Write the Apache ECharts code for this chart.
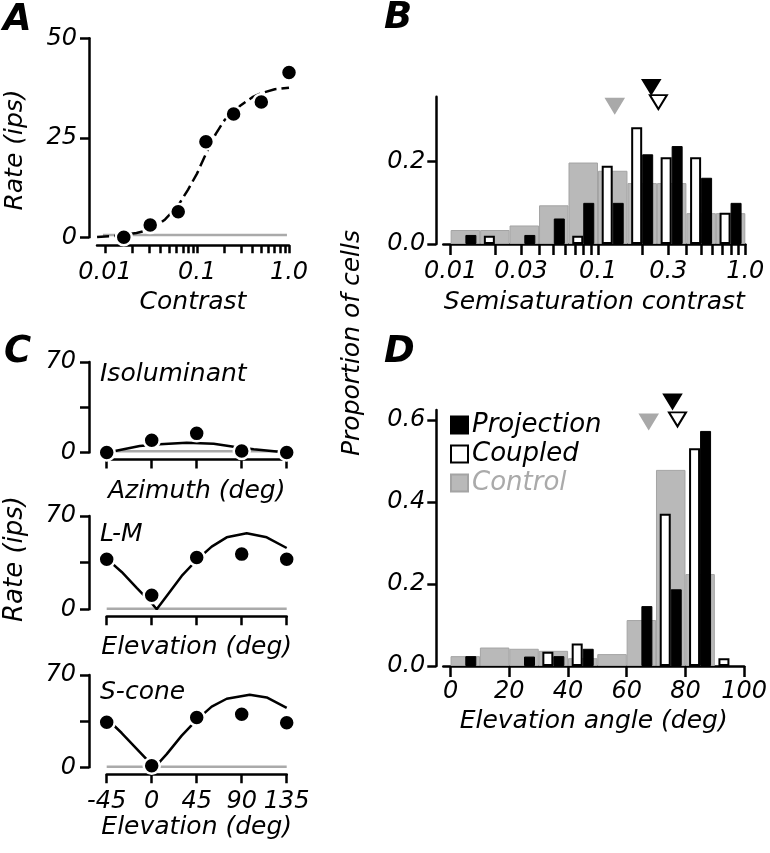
<!DOCTYPE html>
<html>
<head>
<meta charset="utf-8">
<title>Contrast and elevation tuning</title>
<script src="https://cdn.jsdelivr.net/npm/echarts@6/dist/echarts.min.js"></script>
<style>
    html, body { margin: 0; padding: 0; background: #fff; }
    #chartmain { width: 770px; height: 853px; }
</style>
</head>
<body>
<div id="chartmain"></div>
<script type="text/javascript">
    // ---- A: contrast response of one cell ----
    var contrastA = [0.016, 0.031, 0.0625, 0.125, 0.25, 0.5, 1.0];
    var rateA = [0, 3.1, 6.4, 24, 31, 34, 41.4];
    var fitContrastA = [0.0082, 0.012, 0.016, 0.022, 0.032, 0.045, 0.0625, 0.08, 0.1, 0.125, 0.16, 0.2, 0.25, 0.3, 0.4, 0.5, 0.7, 1.0];
    var fitRateA = [0.1, 0.3, 0.6, 1.1, 2.0, 4.5, 8, 12, 16, 21, 26, 29.5, 31.5, 33.2, 35.2, 36.2, 37.2, 37.6];
    var spontContrastA = [0.0095, 0.95];
    var spontRateA = 0.6;
    var tickContrast = [0.01, 0.02, 0.03, 0.04, 0.05, 0.06, 0.07, 0.08, 0.09, 0.1, 0.2, 0.3, 0.4, 0.5, 0.6, 0.7, 0.8, 0.9, 1.0];
    var labelContrastA = [0.01, 0.1, 1.0];
    var labelTextA = ['0.01', '0.1', '1.0'];

    // ---- B: semisaturation contrast histogram (bins of 0.2 log units) ----
    var binLogB = [-1.9, -1.7, -1.5, -1.3, -1.1, -0.9, -0.7, -0.5, -0.3, -0.1];
    var controlB = [0.034, 0.034, 0.045, 0.094, 0.198, 0.178, 0.148, 0.148, 0.075, 0.075];
    var projectionB = [0.022, 0, 0.022, 0.062, 0.10, 0.10, 0.218, 0.238, 0.161, 0.10];
    var coupledB = [0, 0.02, 0, 0, 0.02, 0.19, 0.284, 0.211, 0.211, 0.076];
    var medianB = { control: [0.13, 0.336], projection: [0.23, 0.382], coupled: [0.257, 0.345] };
    var labelContrastB = [0.01, 0.03, 0.1, 0.3, 1.0];
    var labelTextB = ['0.01', '0.03', '0.1', '0.3', '1.0'];

    // ---- C: tuning curves ----
    var angleC = [-45, 0, 45, 90, 135];
    var isoRate = [0, 9.5, 14.8, 1.2, 0];
    var isoFitAngle = [-45, -38, -12, 8, 35, 62, 82, 102, 135];
    var isoFitRate = [0.5, 1, 5, 6.3, 7.6, 6.8, 4.5, 2.6, 0];
    var lmRate = [37.5, 10.5, 38.8, 41.4, 37.5];
    var lmFitAngle = [-45, -30, -15, 0, 5, 15, 30, 45, 60, 75, 95, 115, 135];
    var lmFitRate = [38, 28, 16, 4.5, 0, 10, 25, 37, 47, 54, 57, 54, 46];
    var sRate = [34.1, 1.2, 37.7, 40.2, 33.8];
    var sFitAngle = [-45, -30, -15, 0, 3, 15, 30, 45, 60, 75, 98, 115, 135];
    var sFitRate = [37, 26, 14, 2, 0, 10, 24, 36, 46, 52, 55, 53, 45];
    var spontC = [1, 0.5, 0.5];

    // ---- D: elevation angle histogram (bins of 10 deg) ----
    var binD = [5, 15, 25, 35, 45, 55, 65, 75, 85, 95];
    var controlD = [0.024, 0.045, 0.042, 0.037, 0.019, 0.029, 0.112, 0.478, 0.224, 0];
    var projectionD = [0.024, 0, 0.023, 0.024, 0.042, 0, 0.146, 0.187, 0.573, 0];
    var coupledD = [0, 0, 0, 0.035, 0.055, 0, 0, 0.371, 0.531, 0.019];
    var medianD = { control: [67.5, 0.596], projection: [75.6, 0.645], coupled: [77.3, 0.601] };
    var tickD = [0, 20, 40, 60, 80, 100];

    var FONT = 'DejaVu Sans';
    var GRAY = '#b9b9b9';

    function lbl(size) {
        return { fontFamily: FONT, fontStyle: 'italic', fontSize: size, color: '#000' };
    }
    function pairs(xs, ys, fx) {
        var out = [];
        for (var i = 0; i < xs.length; i++) {
            out.push([fx ? fx(xs[i]) : xs[i], ys[i]]);
        }
        return out;
    }
    function nonZero(xs, ys) {
        var out = [];
        for (var i = 0; i < xs.length; i++) if (ys[i] > 0) out.push([xs[i], ys[i]]);
        return out;
    }
    function logLabel(values, texts) {
        return function (v) {
            for (var i = 0; i < values.length; i++) {
                if (Math.abs(Math.log10(values[i]) - v) < 1e-6) return texts[i];
            }
            return '';
        };
    }
    var lg = function (v) { return Math.log10(v); };

    var axisLine = { show: true, onZero: false, lineStyle: { color: '#000', width: 2.5 } };
    function tick(len, values) {
        var t = { show: true, length: len, lineStyle: { color: '#000', width: 2.5 } };
        if (values) t.customValues = values;
        return t;
    }
    function xAx(grid, min, max, o) {
        var a = {
            type: 'value', gridIndex: grid, min: min, max: max, position: 'bottom',
            splitLine: { show: false },
            axisLine: axisLine,
            axisTick: tick(9),
            axisLabel: Object.assign({ show: true, margin: 15 }, lbl(24)),
            nameLocation: 'middle', nameTextStyle: lbl(25)
        };
        return Object.assign(a, o || {});
    }
    function yAx(grid, min, max, o) {
        var a = {
            type: 'value', gridIndex: grid, min: min, max: max, position: 'left',
            splitLine: { show: false },
            axisLine: axisLine,
            axisTick: tick(9),
            axisLabel: Object.assign({ show: true, margin: 12 }, lbl(24))
        };
        return Object.assign(a, o || {});
    }

    var dot = { color: '#000', opacity: 1, borderColor: '#fff', borderWidth: 2.5 };
    function dots(xi, yi, data) {
        return { type: 'scatter', xAxisIndex: xi, yAxisIndex: yi, data: data, symbol: 'circle', symbolSize: 16, itemStyle: dot, clip: false, z: 4 };
    }
    function curve(xi, yi, data, color, dash) {
        return {
            type: 'line', xAxisIndex: xi, yAxisIndex: yi, data: data, showSymbol: false, clip: false,
            lineStyle: { color: color, width: 2.5, type: dash || 'solid' }, z: 3, silent: true
        };
    }
    function tri(xi, yi, pt, fill) {
        return {
            type: 'scatter', name: 'median', xAxisIndex: xi, yAxisIndex: yi, data: [pt], clip: false,
            symbol: 'triangle', symbolRotate: 180, symbolSize: [17, 14],
            itemStyle: { color: fill, opacity: 1, borderColor: fill === '#fff' ? '#000' : fill, borderWidth: 2 }, z: 5
        };
    }
    function barS(name, xi, yi, data, style, width) {
        return {
            type: 'bar', name: name, xAxisIndex: xi, yAxisIndex: yi, data: data,
            barWidth: width, barGap: '0%', itemStyle: style, z: name === 'Control' ? 1 : 2
        };
    }
    var stControl = { color: GRAY, borderColor: '#a4a4a4', borderWidth: 1 };
    var stProj = { color: '#000', borderColor: '#000', borderWidth: 1 };
    var stCoup = { color: '#fff', borderColor: '#000', borderWidth: 2 };

    var cTicks = [0, 35, 70];
    var cLabels = [0, 70];

    var option = {
        animation: false,
        backgroundColor: '#fff',
        textStyle: { fontFamily: FONT },
        grid: [
            { left: 97, top: 38.3, width: 192, height: 199 },       // A
            { left: 443.3, top: 96.7, width: 302, height: 147.3 },  // B
            { left: 106.7, top: 362, width: 180, height: 90.5 },    // C iso
            { left: 106.7, top: 516, width: 180, height: 93.3 },    // C L-M
            { left: 106.7, top: 675, width: 180, height: 92.3 },    // C S
            { left: 443.3, top: 410, width: 302, height: 256 }      // D
        ],
        xAxis: [
            xAx(0, -2.087, 0, {
                offset: 8, name: 'Contrast', nameGap: 45,
                axisTick: tick(8, tickContrast.map(lg)),
                axisLabel: Object.assign({ margin: 15, customValues: labelContrastA.map(lg), formatter: logLabel(labelContrastA, labelTextA) }, lbl(24))
            }),
            xAx(1, -2.05, 0, {
                name: 'Semisaturation contrast', nameGap: 46,
                axisTick: tick(11, tickContrast.map(lg)),
                axisLabel: Object.assign({ margin: 16, customValues: labelContrastB.map(lg), formatter: logLabel(labelContrastB, labelTextB) }, lbl(24))
            }),
            xAx(1, -2.05, 0, { show: false }),
            xAx(2, -45, 135, { offset: 7, interval: 45, axisLabel: { show: false }, name: 'Azimuth (deg)', nameGap: 19 }),
            xAx(3, -45, 135, { offset: 7, interval: 45, axisLabel: { show: false }, name: 'Elevation (deg)', nameGap: 19 }),
            xAx(4, -45, 135, { offset: 7, interval: 45, name: 'Elevation (deg)', nameGap: 41 }),
            xAx(5, -2.5, 100, {
                name: 'Elevation angle (deg)', nameGap: 43,
                axisTick: tick(11, tickD),
                axisLabel: Object.assign({ margin: 14, customValues: tickD }, lbl(24))
            }),
            xAx(5, -2.5, 100, { show: false })
        ],
        yAxis: [
            yAx(0, 0, 50, { offset: 8, interval: 25 }),
            yAx(1, 0, 0.358, {
                offset: 7,
                axisTick: tick(9, [0, 0.2]),
                axisLabel: Object.assign({ margin: 11, customValues: [0, 0.2], formatter: function (v) { return v.toFixed(1); } }, lbl(24))
            }),
            yAx(2, 0, 70, {
                offset: 17.7, axisTick: tick(9, cTicks),
                axisLabel: Object.assign({ margin: 13, customValues: cLabels }, lbl(24))
            }),
            yAx(3, 0, 70, {
                offset: 17.7, axisTick: tick(9, cTicks),
                axisLabel: Object.assign({ margin: 13, customValues: cLabels }, lbl(24))
            }),
            yAx(4, 0, 70, {
                offset: 17.7, axisTick: tick(9, cTicks),
                axisLabel: Object.assign({ margin: 13, customValues: cLabels }, lbl(24))
            }),
            yAx(5, 0, 0.624, {
                offset: 7,
                axisTick: tick(9, [0, 0.2, 0.4, 0.6]),
                axisLabel: Object.assign({ margin: 11, customValues: [0, 0.2, 0.4, 0.6], formatter: function (v) { return v.toFixed(1); } }, lbl(24))
            })
        ],
        legend: {
            data: [
                { name: 'Projection', textStyle: { color: '#000' } },
                { name: 'Coupled', textStyle: { color: '#000' } },
                { name: 'Control', textStyle: { color: '#aaaaaa' } }
            ],
            orient: 'vertical', left: 450, top: 412, icon: 'rect',
            itemWidth: 17, itemHeight: 17, itemGap: 3, selectedMode: false, padding: 0,
            textStyle: { fontFamily: FONT, fontStyle: 'italic', fontSize: 26, lineHeight: 26, padding: [0, 0, 0, -1] }
        },
        series: [
            // A
            curve(0, 0, pairs(spontContrastA, [spontRateA, spontRateA], lg), '#aaaaaa'),
            curve(0, 0, pairs(fitContrastA, fitRateA, lg), '#000', [12, 5]),
            dots(0, 0, pairs(contrastA, rateA, lg)),
            // B
            barS('Control', 2, 1, nonZero(binLogB, controlB), stControl, 29.5),
            barS('Coupled', 1, 1, nonZero(binLogB, coupledB), stCoup, 11),
            barS('Projection', 1, 1, nonZero(binLogB, projectionB), stProj, 11),
            tri(1, 1, [lg(medianB.control[0]), medianB.control[1]], '#a9a9a9'),
            tri(1, 1, [lg(medianB.projection[0]), medianB.projection[1]], '#000'),
            tri(1, 1, [lg(medianB.coupled[0]), medianB.coupled[1]], '#fff'),
            // C isoluminant
            curve(3, 2, pairs([-45, 135], [spontC[0], spontC[0]]), '#aaaaaa'),
            curve(3, 2, pairs(isoFitAngle, isoFitRate), '#000'),
            dots(3, 2, pairs(angleC, isoRate)),
            // C L-M
            curve(4, 3, pairs([-45, 135], [spontC[1], spontC[1]]), '#aaaaaa'),
            curve(4, 3, pairs(lmFitAngle, lmFitRate), '#000'),
            dots(4, 3, pairs(angleC, lmRate)),
            // C S-cone
            curve(5, 4, pairs([-45, 135], [spontC[2], spontC[2]]), '#aaaaaa'),
            curve(5, 4, pairs(sFitAngle, sFitRate), '#000'),
            dots(5, 4, pairs(angleC, sRate)),
            // D
            barS('Control', 7, 5, nonZero(binD, controlD), stControl, 29.5),
            barS('Coupled', 6, 5, nonZero(binD, coupledD), stCoup, 11),
            barS('Projection', 6, 5, nonZero(binD, projectionD), stProj, 11),
            tri(6, 5, medianD.control, '#a9a9a9'),
            tri(6, 5, medianD.projection, '#000'),
            tri(6, 5, medianD.coupled, '#fff')
        ],
        graphic: [
            { type: 'text', x: 3, y: 2, style: { text: 'A', font: 'italic bold 37px "DejaVu Sans"', fill: '#000' } },
            { type: 'text', x: 384, y: 0, style: { text: 'B', font: 'italic bold 37px "DejaVu Sans"', fill: '#000' } },
            { type: 'text', x: 4, y: 334, style: { text: 'C', font: 'italic bold 37px "DejaVu Sans"', fill: '#000' } },
            { type: 'text', x: 384, y: 334, style: { text: 'D', font: 'italic bold 37px "DejaVu Sans"', fill: '#000' } },
            { type: 'text', x: 15, y: 150, rotation: Math.PI / 2, style: { text: 'Rate (ips)', font: 'italic 25px "DejaVu Sans"', fill: '#000', align: 'center', verticalAlign: 'middle' } },
            { type: 'text', x: 15, y: 559, rotation: Math.PI / 2, style: { text: 'Rate (ips)', font: 'italic 26px "DejaVu Sans"', fill: '#000', align: 'center', verticalAlign: 'middle' } },
            { type: 'text', x: 352, y: 343, rotation: Math.PI / 2, style: { text: 'Proportion of cells', font: 'italic 25px "DejaVu Sans"', fill: '#000', align: 'center', verticalAlign: 'middle' } },
            { type: 'text', x: 100, y: 374, style: { text: 'Isoluminant', font: 'italic 25px "DejaVu Sans"', fill: '#000', verticalAlign: 'middle' } },
            { type: 'text', x: 100, y: 534, style: { text: 'L-M', font: 'italic 25px "DejaVu Sans"', fill: '#000', verticalAlign: 'middle' } },
            { type: 'text', x: 100, y: 692, style: { text: 'S-cone', font: 'italic 25px "DejaVu Sans"', fill: '#000', verticalAlign: 'middle' } }
        ]
    };

    var myChart = echarts.init(document.getElementById('chartmain'));
    myChart.setOption(option);
</script>
</body>
</html>
